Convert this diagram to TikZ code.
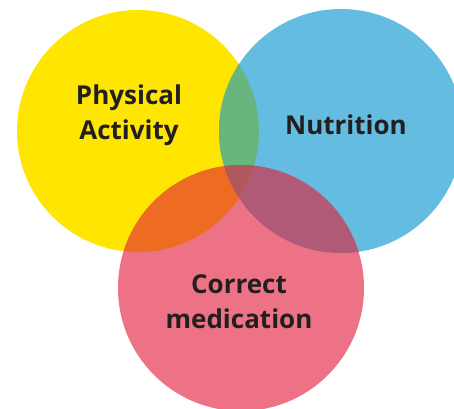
\documentclass[tikz,border=0pt]{standalone}
\usepackage{fontspec}
\setmainfont{Open Sans}
\usetikzlibrary{positioning}
\definecolor{yel}{HTML}{FFE600}\definecolor{blu}{HTML}{64BCE0}\definecolor{pnk}{HTML}{EE7285}
\definecolor{grn}{HTML}{69B57E}\definecolor{org}{HTML}{EE6B22}\definecolor{prp}{HTML}{B05A78}
\definecolor{mid}{HTML}{B0585A}\definecolor{txt}{HTML}{231F20}
\begin{document}
\begin{tikzpicture}[x=1pt,y=-1pt,lbl/.style={font=\bfseries\fontsize{26}{35}\selectfont,text=txt,align=center}]
\useasboundingbox(0,0)rectangle(454,408);
\coordinate(y)at(138,131);\coordinate(b)at(341,131);\coordinate(p)at(241,288);
\def\ry{(y)circle[radius=121pt]}\def\rb{(b)circle[radius=122pt]}\def\rp{(p)circle[radius=123pt]}
% discs
\fill[yel]\ry;\fill[blu]\rb;\fill[pnk]\rp;
% overlaps
\begin{scope}\clip\ry;\fill[grn]\rb;\fill[org]\rp;\end{scope}
\begin{scope}\clip\rb;\fill[prp]\rp;\clip\ry;\fill[mid]\rp;\end{scope}
\node[lbl](pa)at(129,115){Physical\\Activity};
\node[lbl](nu)at(346,125){Nutrition};
\node[lbl](cm)at(239,302){Correct\\medication};
\end{tikzpicture}
\end{document}
